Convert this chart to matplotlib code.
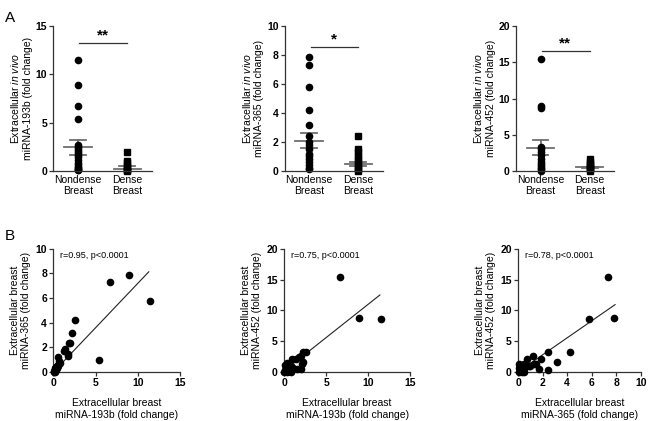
import matplotlib
matplotlib.use("Agg")
import matplotlib.pyplot as plt
import numpy as np

plt.rcParams["font.family"] = ["Liberation Sans", "DejaVu Sans"]
plt.rcParams["mathtext.fontset"] = "custom"
plt.rcParams["mathtext.rm"] = "Liberation Sans"
plt.rcParams["mathtext.it"] = "Liberation Sans:italic"

GROUPS = ["Nondense\nBreast", "Dense\nBreast"]

# panel A: per-sample fold changes
nondense_193b = [11.5, 8.9, 6.7, 5.4, 2.7, 2.5, 2.3, 2.1, 1.9, 1.6, 1.4, 1.1, 0.8, 0.6, 0.4, 0.3, 0.2, 0.1, 0.05]
dense_193b = [1.95, 1.0, 0.8, 0.5, 0.3, 0.1, 0.05, 0.0]
nondense_365 = [7.85, 7.3, 5.8, 4.2, 3.2, 2.4, 2.0, 1.8, 1.5, 1.2, 1.0, 0.8, 0.6, 0.4, 0.2, 0.1]
dense_365 = [2.4, 1.5, 1.3, 1.0, 0.8, 0.6, 0.4, 0.2, 0.1, 0.0]
nondense_452 = [15.5, 8.9, 8.7, 3.3, 3.0, 2.6, 2.2, 1.6, 1.3, 1.0, 0.7, 0.4, 0.2, 0.0]
dense_452 = [1.6, 1.3, 1.0, 0.8, 0.6, 0.4, 0.2, 0.05]

# mean and SEM (nondense, dense)
mean_193b, sem_193b = [2.45, 0.2], [0.75, 0.35]
mean_365, sem_365 = [2.1, 0.5], [0.55, 0.15]
mean_452, sem_452 = [3.2, 0.5], [1.05, 0.1]

# panel B: paired samples
b1_x = [11.5, 8.9, 6.7, 5.4, 2.6, 2.2, 2.0, 1.8, 1.4, 1.3, 1.7, 1.7, 0.6, 0.7, 0.8, 0.5, 0.4, 0.3, 0.2, 0.15, 0.1, 0.05, 0.3, 0.4, 0.6, 0.2]
b1_y = [5.8, 7.85, 7.3, 1.0, 4.2, 3.2, 2.4, 2.4, 1.9, 1.7, 1.5, 1.3, 1.2, 0.9, 0.75, 0.6, 0.5, 0.4, 0.3, 0.2, 0.1, 0.05, 0.15, 0.3, 0.5, 0.0]
b2_x = [6.7, 8.9, 11.5, 2.6, 2.2, 2.0, 1.8, 0.9, 1.4, 2.3, 2.1, 1.5, 2.0, 0.7, 0.5, 0.3, 0.1, 0.2, 0.4, 0.1, 0.3, 0.6, 0.8, 0.05, 1.0]
b2_y = [15.5, 8.8, 8.7, 3.3, 3.3, 2.6, 2.4, 2.2, 2.2, 1.6, 1.3, 0.5, 0.5, 1.0, 1.3, 1.5, 1.2, 0.8, 0.5, 0.3, 0.1, 0.2, 0.0, 0.0, 0.9]
b3_x = [7.3, 5.8, 7.85, 4.2, 2.4, 3.2, 2.4, 1.9, 1.2, 0.75, 1.5, 1.3, 1.7, 0.5, 0.3, 0.1, 0.6, 0.9, 0.2, 0.4, 0.1, 0.5, 0.3, 0.05, 1.0]
b3_y = [15.5, 8.7, 8.8, 3.3, 3.3, 1.7, 0.4, 2.2, 2.6, 2.2, 1.4, 1.3, 0.5, 1.4, 1.2, 1.3, 0.9, 1.0, 0.5, 0.3, 0.1, 0.0, 0.0, 0.6, 1.0]

# regression lines (slope, intercept, x start, x end)
fit_b1 = (0.72, 0.0, 0.0, 11.3)
fit_b2 = (1.08, 0.2, 0.0, 11.4)
fit_b3 = (1.38, 0.05, 0.0, 7.9)
stats_b = ["r=0.95, p<0.0001", "r=0.75, p<0.0001", "r=0.78, p<0.0001"]

GREY = "#6e6e6e"
LABEL_SIZE = 7.5
fig = plt.figure(figsize=(6.5, 4.21), dpi=100)


def style_axes(ax):
    for side in ["top", "right"]:
        ax.spines[side].set_visible(False)
    for side in ["left", "bottom"]:
        ax.spines[side].set_linewidth(0.9)
        ax.spines[side].set_color("#333333")
    ax.tick_params(direction="out", length=3, width=0.9, labelsize=7.5, pad=1.5, colors="#333333")
    for lab in ax.get_yticklabels() + ax.get_xticklabels():
        lab.set_fontweight("bold")
        lab.set_color("black")


def dot_panel(rect, nondense, dense, mean, sem, ymax, yticks, ylabel, bar_y, stars):
    ax = fig.add_axes(rect)
    for i, (m, s) in enumerate(zip(mean, sem)):
        ax.plot([i - 0.28, i + 0.28], [m, m], color=GREY, lw=1.3, zorder=1)
        ax.plot([i, i], [m - s, m + s], color=GREY, lw=1.3, zorder=1)
        for v in (m - s, m + s):
            ax.plot([i - 0.16, i + 0.16], [v, v], color=GREY, lw=1.3, zorder=1)
    ax.plot(np.zeros(len(nondense)), nondense, "o", color="black", ms=4.5, zorder=2, clip_on=False)
    ax.plot(np.ones(len(dense)), dense, "s", color="black", ms=4.2, zorder=2, clip_on=False)
    ax.plot([0.03, 1.0], [bar_y, bar_y], color="#333333", lw=0.9)
    ax.text(0.5, bar_y + ymax * 0.005, stars, ha="center", va="bottom", fontsize=11, fontweight="bold")
    ax.set_xlim(-0.5, 1.5)
    ax.set_ylim(0, ymax)
    ax.set_yticks(yticks)
    ax.set_xticks([0, 1])
    ax.set_xticklabels(GROUPS, fontsize=LABEL_SIZE + 0.3, linespacing=1.1)
    ax.set_ylabel(ylabel, fontsize=LABEL_SIZE, linespacing=1.2, labelpad=2)
    style_axes(ax)
    for lab in ax.get_xticklabels():
        lab.set_fontweight("normal")
    ax.tick_params(axis="x", length=0, pad=3)
    return ax


def scatter_panel(rect, x, y, fit, xmax, xticks, ymax, yticks, xlabel, ylabel, stat):
    ax = fig.add_axes(rect)
    ax.plot(x, y, "o", color="black", ms=4.5, clip_on=False, zorder=3)
    slope, icpt, x0, x1 = fit
    xs = np.array([x0, x1])
    ax.plot(xs, slope * xs + icpt, color="#222222", lw=0.8)
    ax.text(0.055, 0.985, stat, transform=ax.transAxes, ha="left", va="top", fontsize=6.5)
    ax.set_xlim(0, xmax)
    ax.set_ylim(0, ymax)
    ax.set_xticks(xticks)
    ax.set_yticks(yticks)
    ax.set_xlabel(xlabel, fontsize=LABEL_SIZE, linespacing=1.2, labelpad=7)
    ax.set_ylabel(ylabel, fontsize=LABEL_SIZE, linespacing=1.2, labelpad=3)
    style_axes(ax)
    return ax


dot_panel([0.082, 0.594, 0.152, 0.344], nondense_193b, dense_193b, mean_193b, sem_193b,
          15, [0, 5, 10, 15], "Extracellular $\\it{in}$ $\\it{vivo}$\nmiRNA-193b (fold change)", 13.2, "**")
dot_panel([0.438, 0.594, 0.151, 0.344], nondense_365, dense_365, mean_365, sem_365,
          10, [0, 2, 4, 6, 8, 10], "Extracellular $\\it{in}$ $\\it{vivo}$\nmiRNA-365 (fold change)", 8.55, "*")
dot_panel([0.794, 0.594, 0.151, 0.344], nondense_452, dense_452, mean_452, sem_452,
          20, [0, 5, 10, 15, 20], "Extracellular $\\it{in}$ $\\it{vivo}$\nmiRNA-452 (fold change)", 16.5, "**")

scatter_panel([0.082, 0.116, 0.195, 0.293], b1_x, b1_y, fit_b1, 15, [0, 5, 10, 15], 10, [0, 2, 4, 6, 8, 10],
              "Extracellular breast\nmiRNA-193b (fold change)", "Extracellular breast\nmiRNA-365 (fold change)", stats_b[0])
scatter_panel([0.437, 0.116, 0.194, 0.293], b2_x, b2_y, fit_b2, 15, [0, 5, 10, 15], 20, [0, 5, 10, 15, 20],
              "Extracellular breast\nmiRNA-193b (fold change)", "Extracellular breast\nmiRNA-452 (fold change)", stats_b[1])
scatter_panel([0.797, 0.116, 0.189, 0.293], b3_x, b3_y, fit_b3, 10, [0, 2, 4, 6, 8, 10], 20, [0, 5, 10, 15, 20],
              "Extracellular breast\nmiRNA-365 (fold change)", "Extracellular breast\nmiRNA-452 (fold change)", stats_b[2])

fig.text(0.008, 0.975, "A", fontsize=11, va="top")
fig.text(0.008, 0.455, "B", fontsize=11, va="top")

fig.savefig("out.png", dpi=100)
